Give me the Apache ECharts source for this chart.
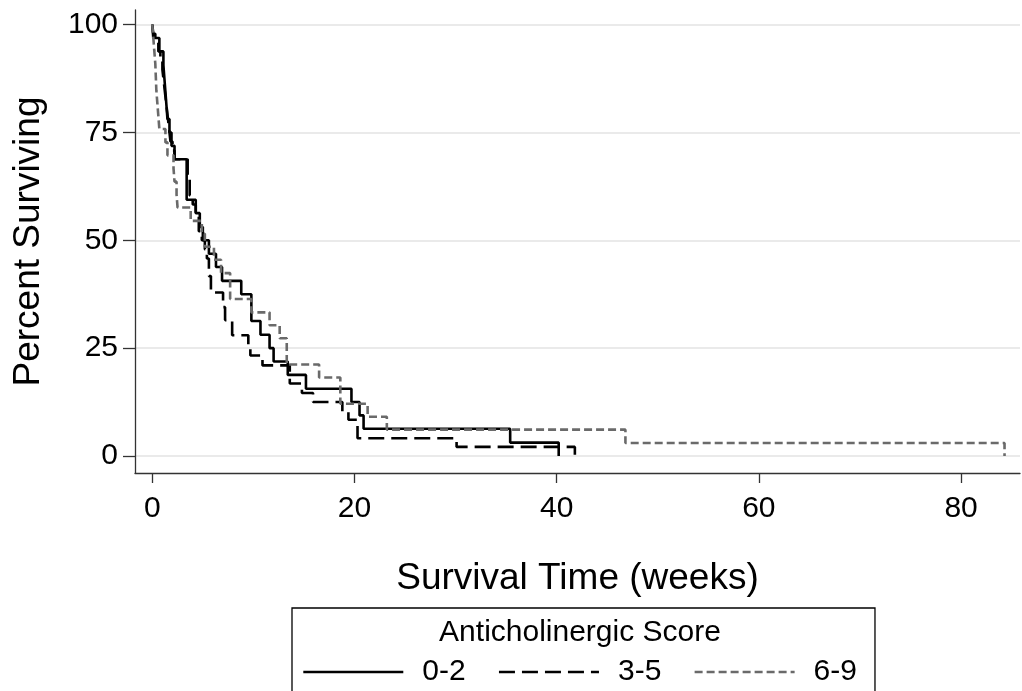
<!DOCTYPE html>
<html>
<head>
<meta charset="utf-8">
<script src="https://cdn.jsdelivr.net/npm/echarts@6/dist/echarts.min.js"></script>
<style>
html, body { margin: 0; padding: 0; background: #fff; }
#km { width: 1022px; height: 691px; }
</style>
</head>
<body>
<div id="km"></div>
<script>
// Kaplan-Meier steps: time (weeks) and percent surviving after each drop
var times02 = [0, 0.1, 0.7, 1.1, 1.2, 1.3, 1.4, 1.5, 1.7, 1.9, 2.2, 3.4, 4.3, 4.7, 5.0, 5.6, 6.3, 6.9, 8.8, 9.8,
  10.7, 11.6, 12.0, 13.4, 15.2, 19.7, 20.5, 20.9, 35.4, 40.2];
var surv02 = [100, 96.9, 93.8, 90.6, 87.5, 84.4, 81.3, 78.1, 75.0, 71.9, 68.8, 59.4, 56.3, 53.1, 50.0, 46.9, 43.8, 40.6, 37.5, 31.3,
  28.1, 25.0, 21.9, 18.8, 15.6, 12.5, 9.4, 6.3, 3.1, 0];

var times35 = [0, 0.1, 0.3, 0.6, 0.8, 1.0, 1.1, 1.2, 1.3, 1.4, 1.5, 1.6, 1.7, 1.8, 2.0, 2.2, 3.5, 3.7, 4.0, 4.3,
  4.6, 4.9, 5.2, 5.4, 5.6, 5.8, 7.0, 7.2, 7.9, 9.5, 9.7, 10.9, 13.6, 14.8, 15.9, 18.8, 19.4, 20.3, 30.1, 41.8];
var surv35 = [100, 97.9, 95.8, 93.8, 91.7, 89.6, 87.5, 85.4, 83.3, 81.3, 79.2, 77.1, 75.0, 72.9, 70.8, 68.8, 64.6, 60.4, 58.3, 56.3,
  52.1, 50.0, 47.9, 45.8, 41.7, 37.9, 34.5, 31.5, 28.0, 25.3, 23.3, 21.0, 16.8, 14.6, 12.5, 10.2, 8.4, 4.1, 2.1, 0];

var times69 = [0, 0.1, 0.2, 0.3, 0.35, 0.4, 0.5, 0.6, 0.7, 1.3, 1.5, 2.1, 2.2, 2.4, 2.5, 3.8, 4.9, 5.2, 6.1, 6.8,
  7.7, 9.8, 11.6, 12.6, 13.3, 16.5, 18.6, 21.3, 23.2, 46.8, 84.3];
var surv69 = [100, 97.0, 93.9, 90.9, 87.9, 84.8, 81.8, 78.8, 75.8, 72.7, 69.7, 66.7, 63.6, 60.6, 57.6, 54.5, 51.5, 48.5, 45.5, 42.4,
  36.4, 33.3, 30.3, 27.3, 21.2, 18.2, 12.1, 9.1, 6.1, 3.0, 0];

var groupNames = ['0-2', '3-5', '6-9'];
var xTicks = [0, 20, 40, 60, 80];
var yTicks = [0, 25, 50, 75, 100];

var FONT = '"Liberation Sans", Arial, Helvetica, sans-serif';

function pairs(t, s) {
  var out = [];
  for (var i = 0; i < t.length; i++) out.push([t[i], s[i]]);
  return out;
}

var chart = echarts.init(document.getElementById('km'));
var option = {
  animation: false,
  backgroundColor: '#fff',
  textStyle: { fontFamily: FONT },
  title: {
    text: 'Anticholinergic Score',
    left: 580,
    top: 618,
    textAlign: 'center',
    padding: 0,
    textStyle: { fontSize: 30, fontWeight: 'normal', color: '#000', fontFamily: FONT }
  },
  grid: {
    left: 135,
    right: 2,
    top: 10,
    bottom: 218,
    containLabel: false,
    outerBoundsMode: 'none'
  },
  legend: {
    data: groupNames,
    left: 292,
    top: 608,
    orient: 'horizontal',
    itemWidth: 100,
    itemHeight: 2,
    itemGap: 32,
    padding: [49, 18, 30, 10],
    borderColor: '#000',
    borderWidth: 1.3,
    itemStyle: { color: 'transparent', borderWidth: 0, opacity: 0 },
    lineStyle: { width: 2.6 },
    textStyle: { fontSize: 30, color: '#000', lineHeight: 30, fontFamily: FONT, padding: [0, 0, 0, 14] }
  },
  xAxis: {
    type: 'value',
    min: -1.71,
    max: 85.83,
    name: 'Survival Time (weeks)',
    nameLocation: 'middle',
    nameGap: 87,
    nameTextStyle: { fontSize: 37, color: '#000', fontFamily: FONT },
    axisLine: { show: true, onZero: false, lineStyle: { color: '#333', width: 1.3 } },
    axisTick: { show: true, length: 10, customValues: xTicks, lineStyle: { color: '#333', width: 1.3 } },
    axisLabel: { customValues: xTicks, fontSize: 30, color: '#000', margin: 21, fontFamily: FONT },
    splitLine: { show: false }
  },
  yAxis: {
    type: 'value',
    min: -3.95,
    max: 103.4,
    name: 'Percent Surviving',
    nameLocation: 'middle',
    nameGap: 88,
    nameTextStyle: { fontSize: 37, color: '#000', fontFamily: FONT },
    axisLine: { show: true, onZero: false, lineStyle: { color: '#333', width: 1.3 } },
    axisTick: { show: true, length: 12, customValues: yTicks, lineStyle: { color: '#333', width: 1.3 } },
    axisLabel: { customValues: yTicks, fontSize: 30, color: '#000', margin: 17, fontFamily: FONT },
    splitLine: { show: true, lineStyle: { color: '#e3e3e3', width: 1.6 } }
  },
  series: [
    {
      name: groupNames[0],
      type: 'line',
      step: 'end',
      symbol: 'none',
      data: pairs(times02, surv02),
      lineStyle: { color: '#000', width: 2.6, type: 'solid' },
      itemStyle: { color: '#000' },
      z: 2
    },
    {
      name: groupNames[1],
      type: 'line',
      step: 'end',
      symbol: 'none',
      data: pairs(times35, surv35),
      lineStyle: { color: '#000', width: 2.6, type: [16, 7] },
      itemStyle: { color: '#000' },
      z: 3
    },
    {
      name: groupNames[2],
      type: 'line',
      step: 'end',
      symbol: 'none',
      data: pairs(times69, surv69),
      lineStyle: { color: '#6a6a6a', width: 2.6, type: [8, 4] },
      itemStyle: { color: '#6a6a6a' },
      z: 4
    }
  ]
};
chart.setOption(option);
</script>
</body>
</html>
